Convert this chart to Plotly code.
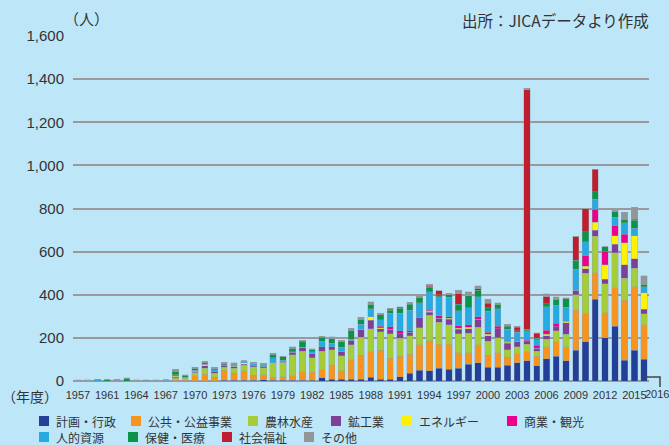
import plotly.graph_objects as go

years = ["1957", "1959", "1960"] + [str(y) for y in range(1961, 2017)]

keikaku = [0,0,0,0,0,0,0,0,0,0, 0,0,2,2,2,3,3,3,4, 6,4,4,4,4,4,15,9,8,8,8,18,8,8,20, 35,51,48,58,54,58,78,85,63,63, 74,85,93,70,104,115,93,143,181,380, 200,254,96,143,101]
koukyou = [0,0,0,0,0,0,0,0,0,0, 4,4,22,30,15,46,32,45,23, 22,14,15,20,38,37,38,65,40,91,112,117,135,97,95, 89,118,138,112,117,72,52,82,57,68, 36,42,42,45,54,67,65,186,132,122, 116,178,279,295,161]
nourin = [0,0,0,0,0,0,0,0,0,0, 9,8,14,28,18,15,23,26,38, 33,66,68,97,97,67,85,72,68,69,82,108,85,115,83, 85,77,118,103,89,89,92,82,65,69, 34,31,36,23,36,51,59,70,186,170, 136,163,101,85,51]
koukou = [3,3,0,0,2,0,4,0,4,0, 4,6,3,10,9,6,7,3,6, 6,0,0,12,18,20,20,12,23,20,37,38,14,20,22, 16,48,15,18,26,20,20,37,25,43, 31,26,11,15,15,19,53,23,22,28, 19,39,62,43,20]
energy = [0,0,0,0,0,0,0,0,0,0, 6,0,5,7,0,0,4,8,0, 0,0,0,0,0,0,0,0,0,0,0,18,6,0,0, 0,0,5,0,5,6,8,0,6,0, 4,0,0,0,8,0,8,0,12,36, 67,40,104,107,76]
shougyou = [0,0,0,0,2,0,0,0,0,0, 4,0,0,0,0,0,0,0,0, 0,0,0,3,0,0,0,0,0,5,0,0,6,11,12, 8,0,5,12,6,12,12,12,11,11, 4,0,8,12,19,15,0,0,48,60, 62,45,39,0,0]
jinteki = [0,0,6,0,0,0,0,0,0,3, 3,0,4,0,8,6,5,6,12, 7,24,9,0,0,8,26,18,18,0,25,35,31,63,83, 96,69,85,88,92,69,77,92,97,82, 56,43,42,26,108,85,64,96,65,46, 0,40,54,36,28]
hoken = [0,0,0,6,0,12,0,4,0,2, 16,8,9,8,5,3,3,4,0, 4,15,18,17,25,8,17,23,25,43,23,23,22,15,23, 28,26,20,9,11,31,57,31,15,20, 14,5,8,8,15,28,40,43,46,36, 23,26,16,36,11]
shakai = [0,0,0,0,2,0,0,0,0,0, 0,0,0,0,0,0,0,0,0, 0,0,0,0,3,0,3,0,0,0,0,0,0,4,3, 2,0,6,18,0,48,0,8,22,0, 3,17,1110,22,31,0,0,108,108,104, 0,0,0,6,0]
sonota = [2,2,2,2,1,2,1,1,1,1, 8,3,5,6,6,7,7,0,3, 5,5,1,6,3,5,3,6,8,8,8,11,8,4,3, 6,8,8,0,8,15,17,12,17,8, 8,5,8,3,15,11,3,3,0,0, 0,8,31,54,40]

series_names = ["計画・行政", "公共・公益事業", "農林水産", "鉱工業", "エネルギー",
                "商業・観光", "人的資源", "保健・医療", "社会福祉", "その他"]
series_values = [keikaku, koukyou, nourin, koukou, energy, shougyou, jinteki, hoken, shakai, sonota]
colors = ["#243f98", "#f7941d", "#a5cd3a", "#7d3f97", "#fff200",
          "#ec008c", "#27aae1", "#0b9347", "#be1e2d", "#949598"]

tick_years = ["1957", "1961", "1964", "1967", "1970", "1973", "1976", "1979", "1982", "1985",
              "1988", "1991", "1994", "1997", "2000", "2003", "2006", "2009", "2012", "2015"]
y_ticks = [0, 200, 400, 600, 800, 1000, 1200, 1400, 1600]
y_tick_text = ["0", "200", "400", "600", "800", "1,000", "1,200", "1,400", "1,600"]

BG = "#bee6f9"
TXT = "#333333"
XFONT = "Liberation Sans, sans-serif"
W, H = 669, 445
L, R, T, B = 73, 20, 36, 64
PW, PH = W - L - R, H - T - B

def px(xp):
    return (xp - L) / PW

def py(yp):
    return (H - B - yp) / PH

fig = go.Figure()
for name, vals, col in zip(series_names, series_values, colors):
    fig.add_trace(go.Bar(x=years, y=vals, name=name, marker_color=col,
                         marker_line=dict(color="rgba(150,160,170,0.45)", width=0.8),
                         showlegend=False))

fig.update_layout(
    barmode="stack", bargap=0.35,
    width=W, height=H,
    margin=dict(l=L, r=R, t=T, b=B, pad=0, autoexpand=False),
    paper_bgcolor=BG, plot_bgcolor=BG,
    font=dict(family="Noto Sans CJK JP, sans-serif", color=TXT),
)
fig.update_xaxes(type="category", categoryorder="array", categoryarray=years,
                 range=[-0.5, len(years) - 0.5], automargin=False, tickangle=0,
                 tickmode="array", tickvals=tick_years, ticktext=tick_years,
                 tickfont=dict(family=XFONT, size=11, color=TXT),
                 ticks="", showgrid=False, showline=False, zeroline=False, ticklabelstandoff=6)
fig.update_yaxes(range=[0, 1600], tickmode="array", tickvals=y_ticks, ticktext=y_tick_text,
                 automargin=False,
                 tickfont=dict(family="Liberation Sans, sans-serif", size=15, color=TXT),
                 showgrid=True, gridcolor="#9a9a9e", gridwidth=2,
                 zeroline=True, zerolinecolor="#9a9a9e", zerolinewidth=2,
                 ticks="", showline=False, ticklabelstandoff=8)

ann = []
ann.append(dict(text="（人）", x=px(62), y=py(19), xref="paper", yref="paper",
                xanchor="left", yanchor="middle", showarrow=False,
                font=dict(size=15, color=TXT)))
ann.append(dict(text="出所：JICAデータより作成", x=px(651), y=py(20), xref="paper", yref="paper",
                xanchor="right", yanchor="middle", showarrow=False,
                font=dict(size=15.5, color=TXT)))
ann.append(dict(text="（年度）", x=px(0), y=py(396), xref="paper", yref="paper",
                xanchor="left", yanchor="middle", showarrow=False,
                font=dict(size=14, color=TXT)))
ann.append(dict(text="2016", x=px(657), y=py(394), xref="paper", yref="paper",
                xanchor="center", yanchor="middle", showarrow=False,
                font=dict(family=XFONT, size=11, color=TXT)))

shapes = [dict(type="path", xref="paper", yref="paper",
               path=f"M {px(644)},{py(377)} L {px(660)},{py(377)} L {px(660)},{py(387)}",
               line=dict(color="#444444", width=1.5))]

legend_rows = [
    (421, [39, 131, 248, 331, 402, 507], series_names[:6], colors[:6]),
    (437, [39, 128, 222, 304], series_names[6:], colors[6:]),
]
for yrow, xs, names, cols in legend_rows:
    for x0, name, col in zip(xs, names, cols):
        shapes.append(dict(type="rect", xref="paper", yref="paper",
                           x0=px(x0), x1=px(x0 + 10), y0=py(yrow + 5), y1=py(yrow - 5),
                           fillcolor=col, line=dict(width=0)))
        ann.append(dict(text=name, x=px(x0 + 15), y=py(yrow), xref="paper", yref="paper",
                        xanchor="left", yanchor="middle", showarrow=False,
                        font=dict(size=12, color=TXT)))

fig.update_layout(annotations=ann, shapes=shapes)
fig.write_html("out.html", config={"displayModeBar": False},
               post_script="document.body.style.margin='0';document.body.style.background='" + BG + "';")
